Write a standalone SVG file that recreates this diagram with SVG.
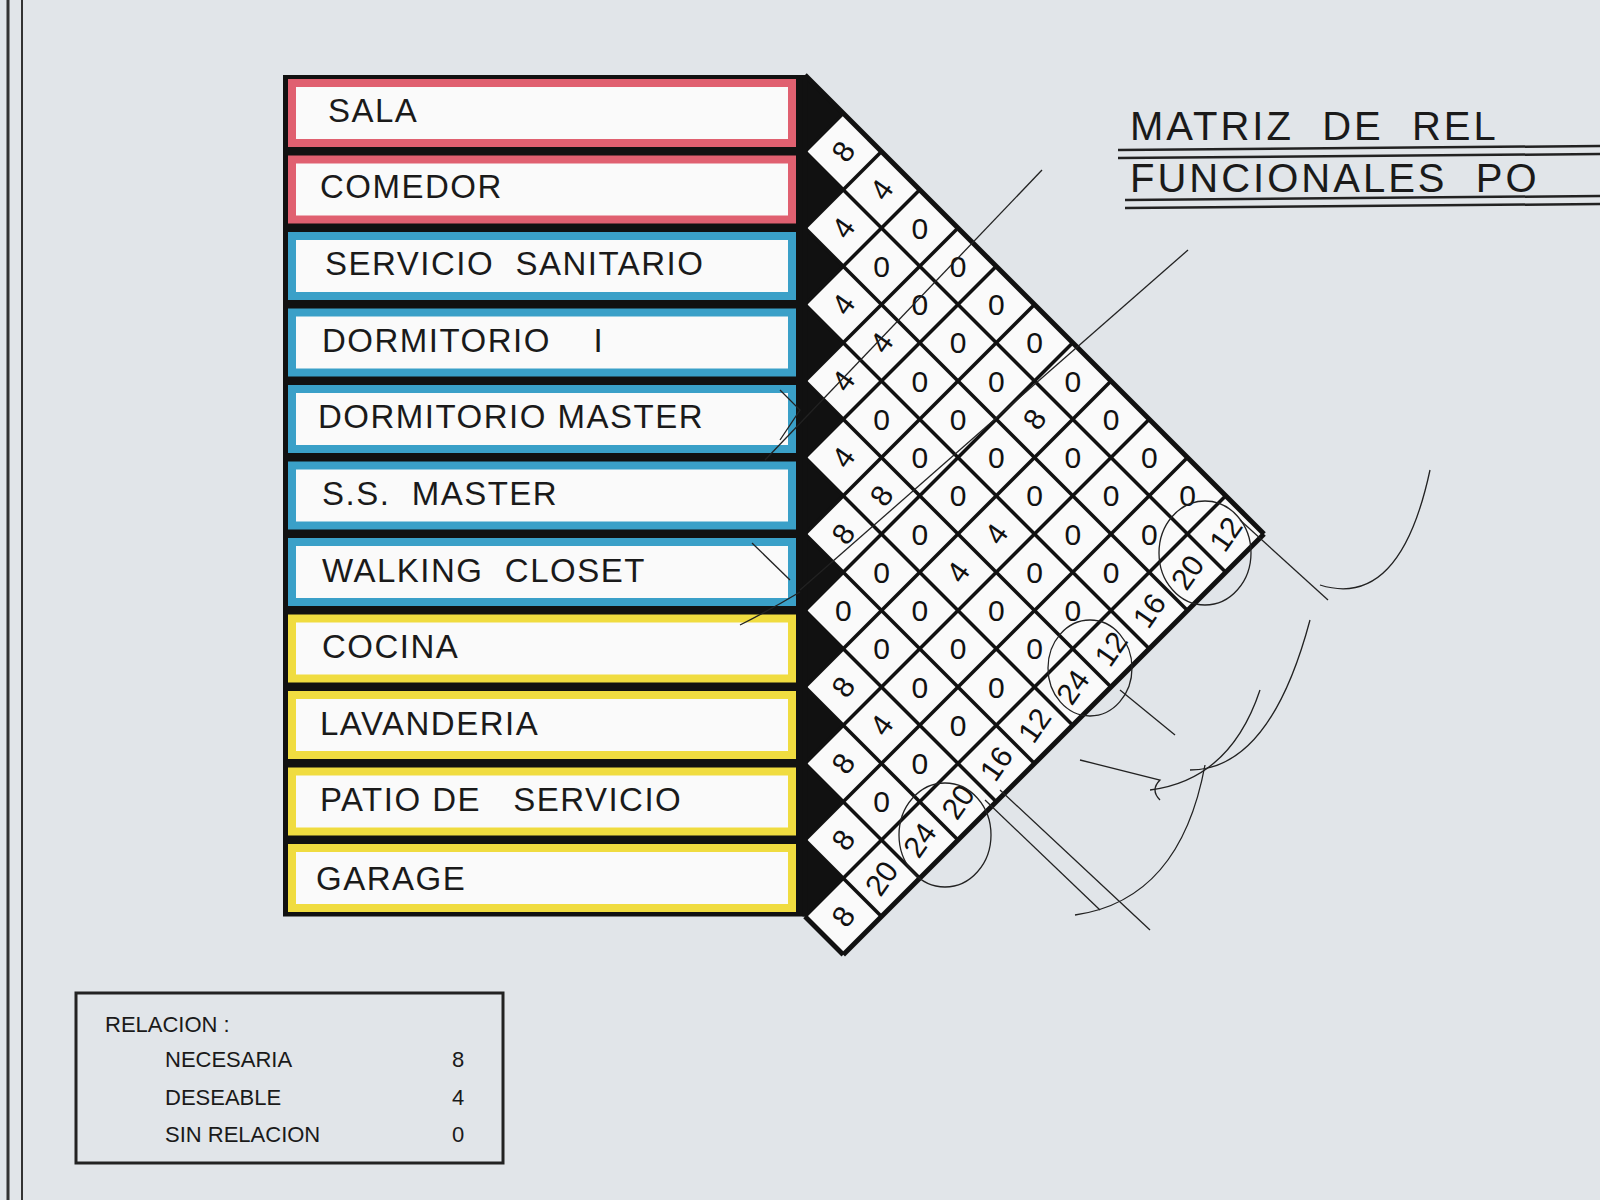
<svg xmlns="http://www.w3.org/2000/svg" width="1600" height="1200" viewBox="0 0 1600 1200">
<defs>
<style>
.lbl{font-family:"Liberation Sans",Arial,sans-serif;font-size:33px;fill:#1a1a1a;letter-spacing:1.5px;white-space:pre}
.num{font-family:"Liberation Sans",Arial,sans-serif;font-size:30px;fill:#111;text-anchor:middle;dominant-baseline:central}
.grid{stroke:#111;stroke-width:3.5;fill:none}
.blk{fill:#111}
.pen{stroke:#222;stroke-width:1.3;fill:none}
.ttl{font-family:"Liberation Sans",Arial,sans-serif;font-size:40px;fill:#1a1a1a;letter-spacing:3px;white-space:pre}
.leg{font-family:"Liberation Sans",Arial,sans-serif;font-size:22px;fill:#1a1a1a}
.red{stroke:#e06070}.blue{stroke:#3aa0c8}.yel{stroke:#f0dc40}
.cell{fill:#fafafa;stroke-width:8}
</style>
</defs>
<rect width="1600" height="1200" fill="#e1e5e9"/>
<line x1="8" y1="0" x2="8" y2="1200" stroke="#333" stroke-width="3"/>
<line x1="22" y1="0" x2="22" y2="1200" stroke="#333" stroke-width="2"/>

<g id="title">
<text class="ttl" x="1130" y="140">MATRIZ  DE  REL</text>
<line x1="1118" y1="150" x2="1600" y2="146" stroke="#222" stroke-width="2.5"/>
<line x1="1118" y1="158" x2="1600" y2="154" stroke="#222" stroke-width="2.5"/>
<text class="ttl" x="1130" y="192">FUNCIONALES  PO</text>
<line x1="1125" y1="200" x2="1600" y2="196" stroke="#222" stroke-width="2.5"/>
<line x1="1125" y1="208" x2="1600" y2="204" stroke="#222" stroke-width="2.5"/>
</g>

<g id="rooms">
<rect x="283" y="75" width="522" height="841.5" fill="#111"/>
<g id="r0"><rect class="cell red" x="292" y="83" width="500" height="60"/><text class="lbl" x="328" y="122">SALA</text></g>
<g id="r1"><rect class="cell red" x="292" y="159.5" width="500" height="60"/><text class="lbl" x="320" y="198">COMEDOR</text></g>
<g id="r2"><rect class="cell blue" x="292" y="236" width="500" height="60"/><text class="lbl" x="325" y="275">SERVICIO  SANITARIO</text></g>
<g id="r3"><rect class="cell blue" x="292" y="312.5" width="500" height="60"/><text class="lbl" x="322" y="352">DORMITORIO    I</text></g>
<g id="r4"><rect class="cell blue" x="292" y="389" width="500" height="60"/><text class="lbl" x="318" y="428">DORMITORIO MASTER</text></g>
<g id="r5"><rect class="cell blue" x="292" y="465.5" width="500" height="60"/><text class="lbl" x="322" y="505">S.S.  MASTER</text></g>
<g id="r6"><rect class="cell blue" x="292" y="542" width="500" height="60"/><text class="lbl" x="322" y="582">WALKING  CLOSET</text></g>
<g id="r7"><rect class="cell yel" x="292" y="618.5" width="500" height="60"/><text class="lbl" x="322" y="658">COCINA</text></g>
<g id="r8"><rect class="cell yel" x="292" y="695" width="500" height="60"/><text class="lbl" x="320" y="735">LAVANDERIA</text></g>
<g id="r9"><rect class="cell yel" x="292" y="771.5" width="500" height="60"/><text class="lbl" x="320" y="811">PATIO DE   SERVICIO</text></g>
<g id="r10"><rect class="cell yel" x="292" y="848" width="500" height="60"/><text class="lbl" x="316" y="890">GARAGE</text></g>
</g>

<g id="matrix">
<polygon points="805,75 1264,534 843.25,954.75 805,916.5" fill="#fafafa"/>
<g class="blk">
<polygon points="805,75 805,151.5 843.25,113.25"/>
<polygon points="805,151.5 805,228 843.25,189.75"/>
<polygon points="805,228 805,304.5 843.25,266.25"/>
<polygon points="805,304.5 805,381 843.25,342.75"/>
<polygon points="805,381 805,457.5 843.25,419.25"/>
<polygon points="805,457.5 805,534 843.25,495.75"/>
<polygon points="805,534 805,610.5 843.25,572.25"/>
<polygon points="805,610.5 805,687 843.25,648.75"/>
<polygon points="805,687 805,763.5 843.25,725.25"/>
<polygon points="805,763.5 805,840 843.25,801.75"/>
<polygon points="805,840 805,916.5 843.25,878.25"/>
</g>
<g class="grid">
<line x1="805" y1="75" x2="1264" y2="534" stroke-width="5"/>
<line x1="805" y1="151.5" x2="1225.75" y2="572.25"/>
<line x1="805" y1="228" x2="1187.5" y2="610.5"/>
<line x1="805" y1="304.5" x2="1149.25" y2="648.75"/>
<line x1="805" y1="381" x2="1111" y2="687"/>
<line x1="805" y1="457.5" x2="1072.75" y2="725.25"/>
<line x1="805" y1="534" x2="1034.5" y2="763.5"/>
<line x1="805" y1="610.5" x2="996.25" y2="801.75"/>
<line x1="805" y1="687" x2="958" y2="840"/>
<line x1="805" y1="763.5" x2="919.75" y2="878.25"/>
<line x1="805" y1="840" x2="881.5" y2="916.5"/>
<line x1="805" y1="916.5" x2="843.25" y2="954.75" stroke-width="5"/>
<line x1="805" y1="151.5" x2="843.25" y2="113.25"/>
<line x1="805" y1="228" x2="881.5" y2="151.5"/>
<line x1="805" y1="304.5" x2="919.75" y2="189.75"/>
<line x1="805" y1="381" x2="958" y2="228"/>
<line x1="805" y1="457.5" x2="996.25" y2="266.25"/>
<line x1="805" y1="534" x2="1034.5" y2="304.5"/>
<line x1="805" y1="610.5" x2="1072.75" y2="342.75"/>
<line x1="805" y1="687" x2="1111" y2="381"/>
<line x1="805" y1="763.5" x2="1149.25" y2="419.25"/>
<line x1="805" y1="840" x2="1187.5" y2="457.5"/>
<line x1="805" y1="916.5" x2="1225.75" y2="495.75"/>
<line x1="843.25" y1="954.75" x2="1264" y2="534" stroke-width="5"/>
<line x1="805" y1="75" x2="805" y2="916.5" stroke-width="5"/>
</g>
<g id="vals">
<text class="num" x="843.25" y="151.5" transform="rotate(-55 843.25 151.5)">8</text>
<text class="num" x="881.5" y="189.75" transform="rotate(-55 881.5 189.75)">4</text>
<text class="num" x="919.75" y="228">0</text>
<text class="num" x="958" y="266.25">0</text>
<text class="num" x="996.25" y="304.5">0</text>
<text class="num" x="1034.5" y="342.75">0</text>
<text class="num" x="1072.75" y="381">0</text>
<text class="num" x="1111" y="419.25">0</text>
<text class="num" x="1149.25" y="457.5">0</text>
<text class="num" x="1187.5" y="495.75">0</text>
<text class="num" x="1225.75" y="534" transform="rotate(-55 1225.75 534)">12</text>

<text class="num" x="843.25" y="228" transform="rotate(-55 843.25 228)">4</text>
<text class="num" x="881.5" y="266.25">0</text>
<text class="num" x="919.75" y="304.5">0</text>
<text class="num" x="958" y="342.75">0</text>
<text class="num" x="996.25" y="381">0</text>
<text class="num" x="1034.5" y="419.25" transform="rotate(-55 1034.5 419.25)">8</text>
<text class="num" x="1072.75" y="457.5">0</text>
<text class="num" x="1111" y="495.75">0</text>
<text class="num" x="1149.25" y="534">0</text>
<text class="num" x="1187.5" y="572.25" transform="rotate(-55 1187.5 572.25)">20</text>

<text class="num" x="843.25" y="304.5" transform="rotate(-55 843.25 304.5)">4</text>
<text class="num" x="881.5" y="342.75" transform="rotate(-55 881.5 342.75)">4</text>
<text class="num" x="919.75" y="381">0</text>
<text class="num" x="958" y="419.25">0</text>
<text class="num" x="996.25" y="457.5">0</text>
<text class="num" x="1034.5" y="495.75">0</text>
<text class="num" x="1072.75" y="534">0</text>
<text class="num" x="1111" y="572.25">0</text>
<text class="num" x="1149.25" y="610.5" transform="rotate(-55 1149.25 610.5)">16</text>

<text class="num" x="843.25" y="381" transform="rotate(-55 843.25 381)">4</text>
<text class="num" x="881.5" y="419.25">0</text>
<text class="num" x="919.75" y="457.5">0</text>
<text class="num" x="958" y="495.75">0</text>
<text class="num" x="996.25" y="534" transform="rotate(-55 996.25 534)">4</text>
<text class="num" x="1034.5" y="572.25">0</text>
<text class="num" x="1072.75" y="610.5">0</text>
<text class="num" x="1111" y="648.75" transform="rotate(-55 1111 648.75)">12</text>

<text class="num" x="843.25" y="457.5" transform="rotate(-55 843.25 457.5)">4</text>
<text class="num" x="881.5" y="495.75" transform="rotate(-55 881.5 495.75)">8</text>
<text class="num" x="919.75" y="534">0</text>
<text class="num" x="958" y="572.25" transform="rotate(-55 958 572.25)">4</text>
<text class="num" x="996.25" y="610.5">0</text>
<text class="num" x="1034.5" y="648.75">0</text>
<text class="num" x="1072.75" y="687" transform="rotate(-55 1072.75 687)">24</text>

<text class="num" x="843.25" y="534" transform="rotate(-55 843.25 534)">8</text>
<text class="num" x="881.5" y="572.25">0</text>
<text class="num" x="919.75" y="610.5">0</text>
<text class="num" x="958" y="648.75">0</text>
<text class="num" x="996.25" y="687">0</text>
<text class="num" x="1034.5" y="725.25" transform="rotate(-55 1034.5 725.25)">12</text>

<text class="num" x="843.25" y="610.5">0</text>
<text class="num" x="881.5" y="648.75">0</text>
<text class="num" x="919.75" y="687">0</text>
<text class="num" x="958" y="725.25">0</text>
<text class="num" x="996.25" y="763.5" transform="rotate(-55 996.25 763.5)">16</text>

<text class="num" x="843.25" y="687" transform="rotate(-55 843.25 687)">8</text>
<text class="num" x="881.5" y="725.25" transform="rotate(-55 881.5 725.25)">4</text>
<text class="num" x="919.75" y="763.5">0</text>
<text class="num" x="958" y="801.75" transform="rotate(-55 958 801.75)">20</text>

<text class="num" x="843.25" y="763.5" transform="rotate(-55 843.25 763.5)">8</text>
<text class="num" x="881.5" y="801.75">0</text>
<text class="num" x="919.75" y="840" transform="rotate(-55 919.75 840)">24</text>

<text class="num" x="843.25" y="840" transform="rotate(-55 843.25 840)">8</text>
<text class="num" x="881.5" y="878.25" transform="rotate(-55 881.5 878.25)">20</text>

<text class="num" x="843.25" y="916.5" transform="rotate(-55 843.25 916.5)">8</text>
</g>
</g>

<g id="connectors">
<ellipse class="pen" cx="1205" cy="553" rx="46" ry="52"/>
<ellipse class="pen" cx="1090" cy="668" rx="42" ry="48"/>
<ellipse class="pen" cx="945" cy="835" rx="46" ry="52"/>
<line class="pen" x1="765" y1="460" x2="1042" y2="170"/>
<line class="pen" x1="800" y1="590" x2="1188" y2="250"/>
<path class="pen" d="M740,625 Q770,610 800,592"/>
<path class="pen" d="M780,390 L800,410 L780,440"/>
<path class="pen" d="M752,543 L790,580"/>
<line class="pen" x1="1240" y1="520" x2="1328" y2="600"/>
<path class="pen" d="M1320,585 Q1400,610 1430,470"/>
<path class="pen" d="M1120,690 L1175,735"/>
<path class="pen" d="M1190,770 Q1270,770 1310,620"/>
<path class="pen" d="M1080,760 L1160,780 Q1150,790 1160,800"/>
<path class="pen" d="M1150,790 Q1230,780 1260,690"/>
<path class="pen" d="M985,800 L1100,910"/>
<path class="pen" d="M1075,915 Q1180,900 1205,765"/>
<line class="pen" x1="1000" y1="790" x2="1150" y2="930" stroke-width="1"/>
</g>

<g id="legend">
<rect x="76" y="993" width="427" height="170" fill="none" stroke="#222" stroke-width="3"/>
<text class="leg" x="105" y="1032">RELACION :</text>
<text class="leg" x="165" y="1067">NECESARIA</text><text class="leg" x="452" y="1067">8</text>
<text class="leg" x="165" y="1105">DESEABLE</text><text class="leg" x="452" y="1105">4</text>
<text class="leg" x="165" y="1142">SIN RELACION</text><text class="leg" x="452" y="1142">0</text>
</g>
</svg>
